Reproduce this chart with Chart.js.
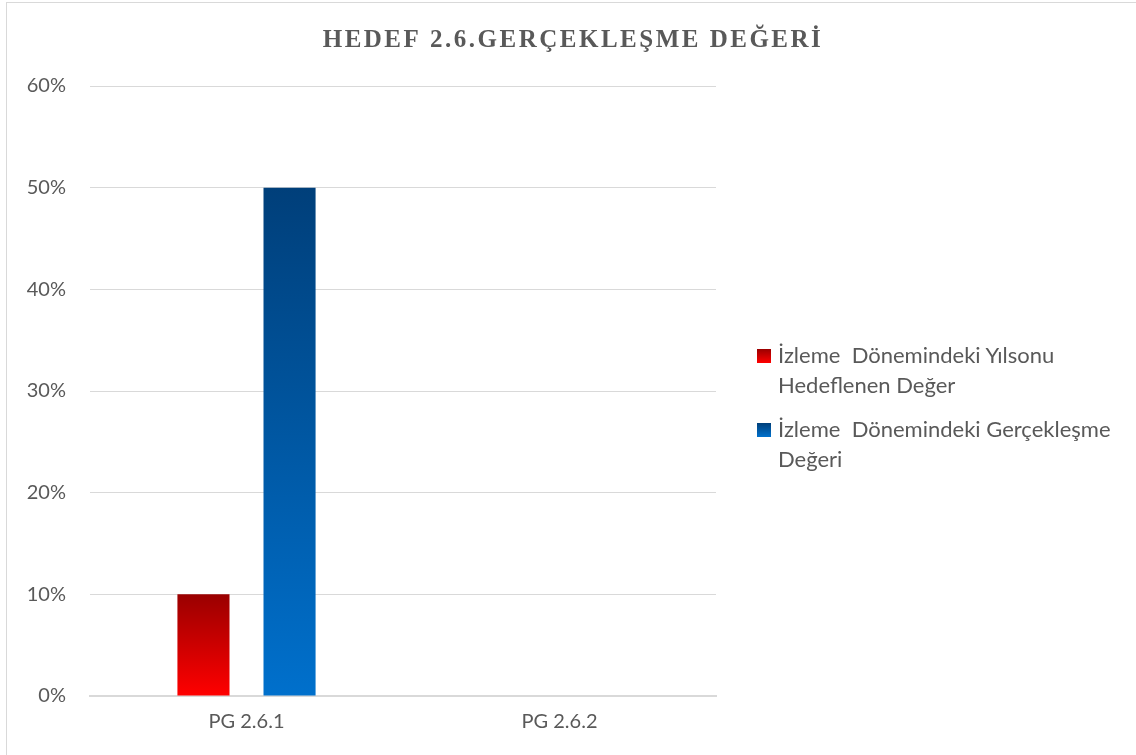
<!DOCTYPE html>
<html>
<head>
<meta charset="utf-8">
<script src="https://cdn.jsdelivr.net/npm/chart.js@4"></script>
<style>
  html, body { margin: 0; padding: 0; background: #fff; }
  #wrap { position: relative; width: 1136px; height: 755px; }
  #frame { position: absolute; left: 6px; top: 2px; right: -2px; bottom: -2px;
           border-left: 1px solid #d9d9d9; border-top: 1px solid #d9d9d9; }
  #c { position: absolute; left: 0; top: 0; }
  #legend { position: absolute; left: 757px; top: 340px; width: 372px;
            font-family: Lato, "Open Sans", sans-serif; font-size: 22px; color: #595959; line-height: 30px; }
  .item { position: relative; padding-left: 21px; margin-bottom: 14px; white-space: pre-wrap; }
  .sw { position: absolute; left: 0; top: 9px; width: 14px; height: 14px; }
</style>
</head>
<body>
<div id="wrap">
  <div id="frame"></div>
  <canvas id="c" width="1136" height="755"></canvas>
  <div id="legend"></div>
</div>
<script>
const categories = ['PG 2.6.1', 'PG 2.6.2']
const targetValues = [10, null]
const actualValues = [50, null]
const seriesNames = ['İzleme  Dönemindeki Yılsonu Hedeflenen Değer', 'İzleme  Dönemindeki Gerçekleşme Değeri']
const yTicks = [0, 10, 20, 30, 40, 50, 60]
const titleText = 'HEDEF 2.6.GERÇEKLEŞME DEĞERİ'

const palettes = [['#9a0000', '#ff0000'], ['#003f7a', '#0070cc']]

function barGradient(idx) {
    return function (context) {
        const chart = context.chart
        const y = chart.scales.y
        if (!y || context.raw == null) return palettes[idx][1]
        const top = y.getPixelForValue(context.raw)
        const base = y.getPixelForValue(0)
        if (!isFinite(top) || !isFinite(base) || top === base) return palettes[idx][1]
        const g = chart.ctx.createLinearGradient(0, top, 0, base)
        g.addColorStop(0, palettes[idx][0])
        g.addColorStop(1, palettes[idx][1])
        return g
    }
}

// title spread over the whole width, with a little letter spacing like the original
const spacedTitle = {
    id: 'spacedTitle',
    afterDraw(chart) {
        const ctx = chart.ctx
        ctx.save()
        ctx.font = 'bold 25px "Liberation Serif", serif'
        ctx.letterSpacing = '2.5px'
        ctx.fillStyle = '#595959'
        ctx.textAlign = 'center'
        ctx.textBaseline = 'middle'
        ctx.fillText(titleText, (6 + chart.width) / 2 + 2, 41)
        ctx.restore()
    }
}

const datasets = [targetValues, actualValues].map((values, i) => ({
    label: seriesNames[i],
    data: values,
    backgroundColor: barGradient(i),
    categoryPercentage: 0.55,
    barPercentage: 0.605
}))

new Chart(document.getElementById('c'), {
    type: 'bar',
    data: { labels: categories, datasets: datasets },
    plugins: [spacedTitle],
    options: {
        responsive: false,
        animation: false,
        layout: { padding: { left: 8, right: 420, top: 86, bottom: 7 } },
        plugins: {
            legend: { display: false },
            tooltip: { enabled: false },
            title: { display: false }
        },
        scales: {
            x: {
                grid: { display: false, drawTicks: false },
                border: { color: '#d9d9d9', width: 2 },
                ticks: { color: '#595959', font: { family: 'Lato', size: 20 }, padding: 14 }
            },
            y: {
                min: 0, max: 60,
                afterFit: scale => { scale.width = 82 },
                afterBuildTicks: scale => { scale.ticks = yTicks.map(v => ({ value: v })) },
                grid: { color: '#d9d9d9', drawTicks: false },
                border: { display: false },
                ticks: { color: '#595959', font: { family: 'Lato', size: 20 }, padding: 24,
                         callback: v => v + '%' }
            }
        }
    }
})

const legend = document.getElementById('legend')
seriesNames.forEach((name, i) => {
    const item = document.createElement('div')
    item.className = 'item'
    const sw = document.createElement('span')
    sw.className = 'sw'
    sw.style.background = 'linear-gradient(' + palettes[i][0] + ',' + palettes[i][1] + ')'
    item.appendChild(sw)
    item.appendChild(document.createTextNode(name))
    legend.appendChild(item)
})
</script>
</body>
</html>
